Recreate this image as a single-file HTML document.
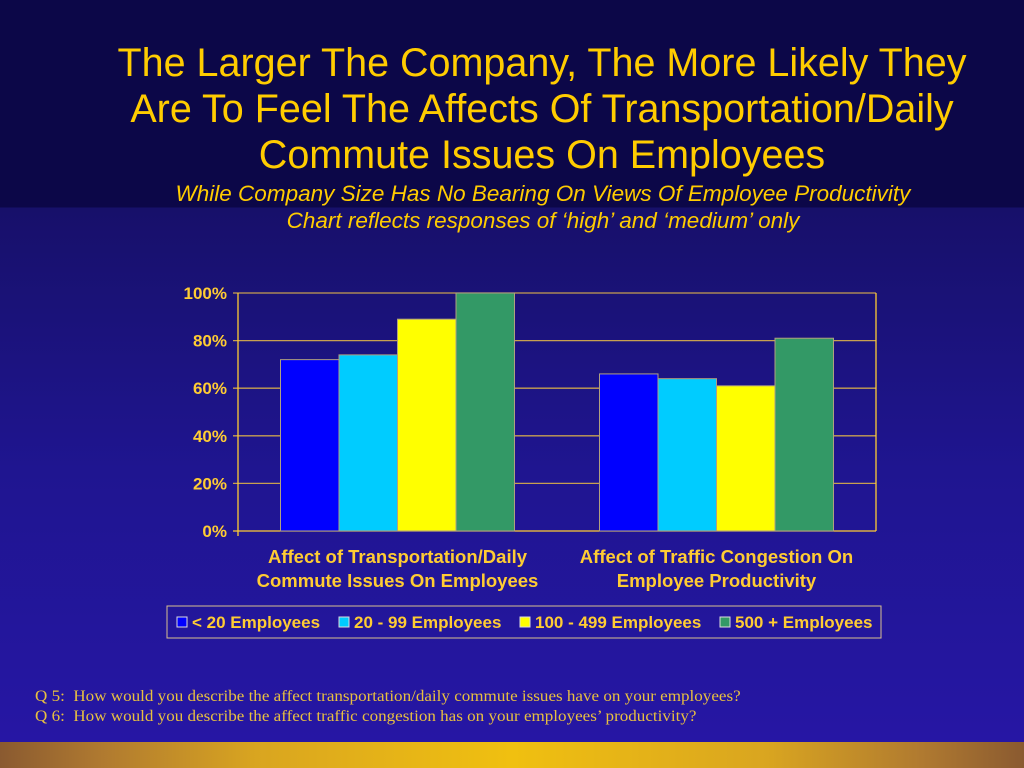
<!DOCTYPE html>
<html><head><meta charset="utf-8">
<style>
html,body{margin:0;padding:0;width:1024px;height:768px;overflow:hidden;}
body{position:relative;font-family:"Liberation Sans",sans-serif;
background:linear-gradient(to bottom,#0c0748 0px,#0c0748 207px,#17106a 208px,#1f1590 470px,#2616a4 742px);}
#bottom-band{position:absolute;left:0;top:742px;width:1024px;height:26px;
background:linear-gradient(to right,#8a5a30 0%,#b07a30 10%,#d9a520 25%,#f0c010 50%,#d9a520 75%,#b07a30 90%,#8a5a30 100%);}
#title{position:absolute;left:0;width:1084px;top:40px;text-align:center;color:#ffcc00;font-size:39.5px;line-height:46px;}
#subtitle{position:absolute;left:0;width:1086px;top:180px;text-align:center;color:#ffcc00;font-size:22.5px;font-style:italic;line-height:27px;}
#notes{position:absolute;left:35px;top:687px;color:#e8c040;font-family:"Liberation Serif",serif;font-size:15.5px;line-height:20px;transform:scaleX(1.1);transform-origin:0 0;}
svg{position:absolute;left:0;top:0;}
</style></head><body>
<div id="title">The Larger The Company, The More Likely They<br>Are To Feel The Affects Of Transportation/Daily<br>Commute Issues On Employees</div>
<div id="subtitle">While Company Size Has No Bearing On Views Of Employee Productivity<br>Chart reflects responses of ‘high’ and ‘medium’ only</div>
<svg id="chart" width="1024" height="768"></svg>
<div id="notes">Q 5:&nbsp; How would you describe the affect transportation/daily commute issues have on your employees?<br>Q 6:&nbsp; How would you describe the affect traffic congestion has on your employees’ productivity?</div>
<div id="bottom-band"></div>
<script>
const categories=[["Affect of Transportation/Daily","Commute Issues On Employees"],["Affect of Traffic Congestion On","Employee Productivity"]];
const seriesNames=["< 20 Employees","20 - 99 Employees","100 - 499 Employees","500 + Employees"];
const seriesColors=["#0000ff","#00ccff","#ffff00","#339966"];
const s1=[72,66];
const s2=[74,64];
const s3=[89,61];
const s4=[100,81];
const seriesValues=[s1,s2,s3,s4];
const yTicks=[0,20,40,60,80,100];

const svg=document.getElementById('chart');
const NS='http://www.w3.org/2000/svg';
const X0=238,X1=876,Y0=531,Y1=293;
const y=v=>Y0-(v/100)*(Y0-Y1);
const groupW=(X1-X0)/categories.length;
const barW=58.5;
const gold="#ffcc33";
function mk(tag,attrs){const e=document.createElementNS(NS,tag);for(const k in attrs)e.setAttribute(k,attrs[k]);svg.appendChild(e);return e;}
yTicks.forEach(t=>{
  const l=mk('line',{x1:X0-5,x2:X1,y1:y(t),y2:y(t),stroke:t===0?gold:"#c8a050","stroke-width":1.3});
  
  
  const tx=mk('text',{x:X0-11,y:y(t)+6,fill:gold,"font-size":17,"font-weight":"bold","text-anchor":"end","font-family":"Liberation Sans,sans-serif"});
  tx.textContent=t+'%';
  
  
});
const ax=mk('line',{x1:X0,x2:X0,y1:Y1,y2:Y0+5,stroke:gold,"stroke-width":1.3});


const rx=mk('line',{x1:X1,x2:X1,y1:Y1,y2:Y0,stroke:gold,"stroke-width":1.3});


categories.forEach((c,i)=>{
  const cx=X0+groupW*(i+0.5);
  const start=cx-barW*seriesValues.length/2;
  seriesValues.forEach((sv,j)=>{
    const r=mk('rect',{x:start+j*barW,y:y(sv[i]),width:barW,height:Y0-y(sv[i]),fill:seriesColors[j],stroke:"#b0a080","stroke-width":1});
    
    
  });
  c.forEach((line,k)=>{
    const t=mk('text',{x:cx,y:563+k*24,fill:gold,"font-size":18.5,"font-weight":"bold","text-anchor":"middle","font-family":"Liberation Sans,sans-serif"});
    t.textContent=line;
    
    
  });
});
const lb=mk('rect',{x:167,y:606,width:714,height:32,fill:"none",stroke:"#d8c090","stroke-width":1});


const legX=[177,339,520,720];
seriesNames.forEach((n,j)=>{
  const sq=mk('rect',{x:legX[j],y:617,width:10,height:10,fill:seriesColors[j],stroke:"#ddd","stroke-width":1});
  
  
  const t=mk('text',{x:legX[j]+15,y:628,fill:gold,"font-size":17,"font-weight":"bold","font-family":"Liberation Sans,sans-serif"});
  t.textContent=n;
  
  
});
</script>
</body></html>
